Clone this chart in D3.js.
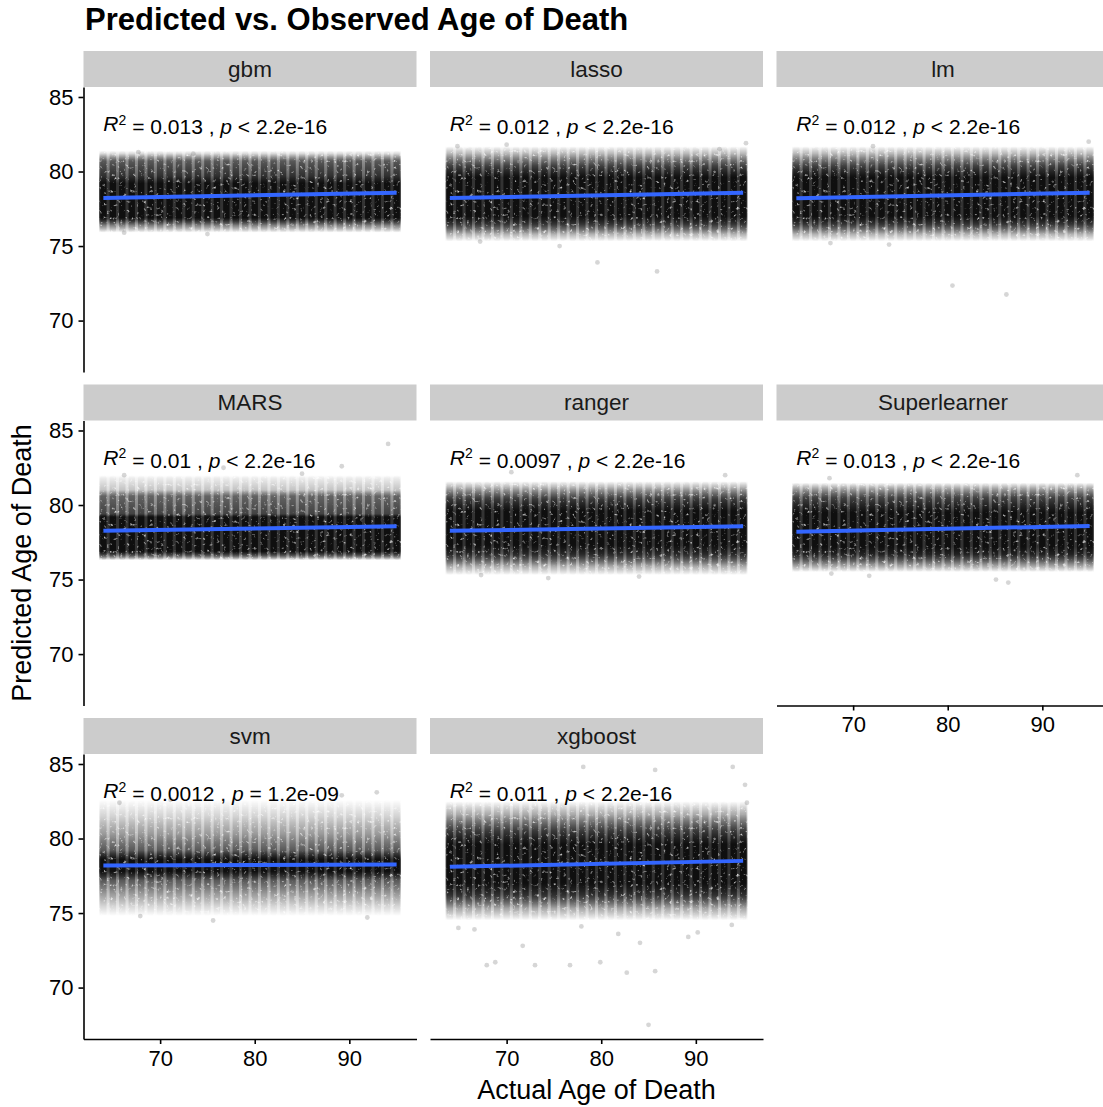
<!DOCTYPE html>
<html>
<head>
<meta charset="utf-8">
<script src="https://cdn.jsdelivr.net/npm/d3@7"></script>
<style>
  body { margin: 0; background: #ffffff; }
  svg text { font-family: "Liberation Sans", Arial, Helvetica, sans-serif; }
</style>
</head>
<body>
<div id="chart"></div>
<script>
// Data -------------------------------------------------------------
var models = ["gbm", "lasso", "lm", "MARS", "ranger", "Superlearner", "svm", "xgboost"];
var r2Labels = ["0.013", "0.012", "0.012", "0.01", "0.0097", "0.013", "0.0012", "0.011"];
var pOps = ["<", "<", "<", "<", "<", "<", "=", "<"];
var pLabels = ["2.2e-16", "2.2e-16", "2.2e-16", "2.2e-16", "2.2e-16", "2.2e-16", "1.2e-09", "2.2e-16"];

// observed ages (x is jittered around each whole year)
var ages = [64, 65, 66, 67, 68, 69, 70, 71, 72, 73, 74, 75, 76, 77, 78, 79,
            80, 81, 82, 83, 84, 85, 86, 87, 88, 89, 90, 91, 92, 93, 94, 95];

// linear fit: predicted value at age 64 and age 95
var fitStart = [78.22, 78.22, 78.2, 78.27, 78.27, 78.2, 78.19, 78.1];
var fitEnd = [78.58, 78.57, 78.58, 78.57, 78.57, 78.6, 78.25, 78.5];

// density of the point cloud at each predicted value (bottom -> top)
var cloudProfiles = {
    gbm: [[75.9, 0], [76.4, 0.4], [76.9, 1], [79.2, 1], [79.7, 0.75], [80.7, 0.55], [81.2, 0.1], [81.4, 0]],
    lasso: [[75.3, 0], [75.8, 0.22], [76.5, 0.75], [77.0, 1], [79.6, 1], [80.4, 0.65], [81.2, 0.2], [81.7, 0]],
    lm: [[75.3, 0], [75.8, 0.22], [76.5, 0.75], [77.0, 1], [79.6, 1], [80.4, 0.65], [81.2, 0.2], [81.7, 0]],
    MARS: [[76.3, 0], [76.6, 0.55], [76.9, 1], [79.2, 1], [79.4, 0.65], [80.6, 0.5], [81.0, 0.17], [81.8, 0.05], [82.0, 0]],
    ranger: [[75.3, 0], [75.9, 0.25], [76.7, 0.8], [77.3, 1], [79.6, 1], [80.4, 0.7], [81.2, 0.2], [81.6, 0]],
    Superlearner: [[75.5, 0], [76.0, 0.32], [76.7, 0.85], [77.2, 1], [79.5, 1], [80.5, 0.65], [81.2, 0.2], [81.5, 0]],
    svm: [[74.8, 0], [75.5, 0.12], [76.3, 0.3], [77.2, 0.55], [77.8, 1], [78.6, 1], [79.2, 0.55], [80.3, 0.3], [81.5, 0.12], [82.6, 0]],
    xgboost: [[74.5, 0], [75.3, 0.25], [76.2, 0.75], [77.0, 1], [79.6, 1], [80.5, 0.7], [81.6, 0.25], [82.5, 0]]
};

// single points that stand away from the cloud [actual, predicted]
var outliers = {
    gbm: [[67.7, 81.3], [73.5, 81.2], [66.2, 75.9], [75.0, 75.8]],
    lasso: [[79.6, 73.9], [85.9, 73.3], [64.8, 81.7], [70.0, 81.8], [95.3, 81.9], [92.5, 81.5], [67.2, 75.3], [75.6, 75.0]],
    lm: [[80.5, 72.35], [86.2, 71.75], [67.6, 75.2], [73.8, 75.1], [94.9, 82.0], [72.1, 81.7]],
    MARS: [[94.1, 84.1], [89.2, 82.6], [76.7, 82.5], [66.2, 82.0], [85.0, 82.1]],
    ranger: [[93.1, 82.0], [70.5, 82.2], [74.4, 75.1], [84.0, 75.2], [67.3, 75.3]],
    Superlearner: [[85.1, 75.0], [86.4, 74.8], [67.7, 75.4], [71.7, 75.25], [93.7, 82.0], [67.5, 81.8]],
    svm: [[92.9, 83.1], [75.6, 74.5], [91.9, 74.7], [67.9, 74.8], [89.2, 82.9], [65.7, 82.4], [71.1, 82.6]],
    xgboost: [[78.1, 84.8], [85.7, 84.6], [93.9, 84.8], [95.2, 83.6], [95.4, 82.4],
              [67.9, 71.5], [68.8, 71.7], [73.0, 71.5], [76.7, 71.5], [79.9, 71.7], [82.7, 71.0], [85.7, 71.1],
              [85.0, 67.5], [71.7, 72.8], [84.1, 73.0], [89.2, 73.4], [90.2, 73.7], [64.9, 74.0], [66.6, 73.9],
              [81.8, 73.6], [77.9, 74.1], [93.8, 74.2]]
};

var yTicks = [70, 75, 80, 85];
var xTicks = [70, 80, 90];
var labelY = 83.2; // where the R2 label sits

// Layout -------------------------------------------------------------
var width = 1103, height = 1107;
var panelW = 333, panelH = 285, stripH = 36;
var left0 = 83.5, top0 = 51, colStep = 346.5, rowStep = 333.5;

var svg = d3.select("#chart")
    .append("svg")
    .attr("width", width)
    .attr("height", height);

var defs = svg.append("defs");

// grain so the cloud reads as many faint points rather than a smooth band
var grain = defs.append("filter")
    .attr("id", "grain")
    .attr("filterUnits", "userSpaceOnUse")
    .attr("x", 0).attr("y", 0)
    .attr("width", panelW).attr("height", panelH);
grain.append("feTurbulence")
    .attr("type", "fractalNoise")
    .attr("baseFrequency", 0.3)
    .attr("numOctaves", 2)
    .attr("seed", 7)
    .attr("result", "noise");
grain.append("feColorMatrix")
    .attr("in", "noise")
    .attr("type", "matrix")
    .attr("values", "0 0 0 0 0  0 0 0 0 0  0 0 0 0 0  3 0 0 0 -0.15")
    .attr("result", "mask");
grain.append("feComposite")
    .attr("in", "SourceGraphic")
    .attr("in2", "mask")
    .attr("operator", "in");

var x = d3.scaleLinear().domain([61.9, 97.1]).range([0, panelW]);
var y = d3.scaleLinear().domain([66.55, 85.67]).range([panelH, 0]);

// Title
svg.append("text")
    .attr("x", 85)
    .attr("y", 30)
    .style("font-size", "31px")
    .style("font-weight", "bold")
    .text("Predicted vs. Observed Age of Death");

// axis titles
svg.append("text")
    .attr("x", left0 + colStep + panelW / 2)
    .attr("y", 1099)
    .attr("text-anchor", "middle")
    .style("font-size", "27px")
    .text("Actual Age of Death");

svg.append("text")
    .attr("transform", "translate(31," + (top0 + stripH + (2 * rowStep + panelH) / 2) + ") rotate(-90)")
    .attr("text-anchor", "middle")
    .style("font-size", "27px")
    .text("Predicted Age of Death");

// Panels -------------------------------------------------------------
models.forEach(function (m, i) {
    var col = i % 3, row = Math.floor(i / 3);
    var px = left0 + col * colStep;
    var py = top0 + row * rowStep;

    // strip
    var strip = svg.append("g").attr("transform", "translate(" + px + "," + py + ")");
    strip.append("rect")
        .attr("width", panelW)
        .attr("height", stripH)
        .attr("fill", "#cccccc");
    strip.append("text")
        .attr("x", panelW / 2)
        .attr("y", stripH / 2)
        .attr("dy", "0.35em")
        .attr("text-anchor", "middle")
        .style("font-size", "22.5px")
        .attr("fill", "#1a1a1a")
        .text(m);

    var g = svg.append("g").attr("transform", "translate(" + px + "," + (py + stripH) + ")");

    // gradient built from the density profile
    var prof = cloudProfiles[m];
    var yLo = prof[0][0], yHi = prof[prof.length - 1][0];
    var grad = defs.append("linearGradient")
        .attr("id", "cloud-" + i)
        .attr("gradientUnits", "userSpaceOnUse")
        .attr("x1", 0).attr("x2", 0)
        .attr("y1", y(yLo)).attr("y2", y(yHi));
    grad.selectAll("stop")
        .data(prof)
        .enter().append("stop")
        .attr("offset", function (d) { return (y(d[0]) - y(yLo)) / (y(yHi) - y(yLo)); })
        .attr("stop-color", "#000")
        .attr("stop-opacity", function (d) { return d[1]; });

    var cloud = g.append("g").attr("filter", "url(#grain)");

    // soft underlay across the whole age range
    cloud.append("rect")
        .attr("x", x(ages[0] - 0.45))
        .attr("width", x(ages[ages.length - 1] + 0.45) - x(ages[0] - 0.45))
        .attr("y", y(yHi))
        .attr("height", y(yLo) - y(yHi))
        .attr("fill", "url(#cloud-" + i + ")")
        .attr("opacity", 0.8);

    // one jittered column per observed age
    cloud.selectAll(".col")
        .data(ages)
        .enter().append("rect")
        .attr("class", "col")
        .attr("x", function (d) { return x(d - 0.34); })
        .attr("width", x(0.68) - x(0))
        .attr("y", y(yHi))
        .attr("height", y(yLo) - y(yHi))
        .attr("rx", 3)
        .attr("fill", "url(#cloud-" + i + ")")
        .attr("opacity", 0.7);

    g.selectAll(".pt")
        .data(outliers[m])
        .enter().append("circle")
        .attr("class", "pt")
        .attr("cx", function (d) { return x(d[0]); })
        .attr("cy", function (d) { return y(d[1]); })
        .attr("r", 2.4)
        .attr("fill", "#000")
        .attr("fill-opacity", 0.16);

    // fitted line
    g.append("line")
        .attr("x1", x(ages[0]))
        .attr("x2", x(ages[ages.length - 1]))
        .attr("y1", y(fitStart[i]))
        .attr("y2", y(fitEnd[i]))
        .attr("stroke", "#3366FF")
        .attr("stroke-width", 4);

    // R2 / p label
    var lab = g.append("text")
        .attr("x", x(64))
        .attr("y", y(labelY))
        .attr("dy", "0.35em")
        .style("font-size", "21px")
        .attr("fill", "#000");
    lab.append("tspan").style("font-style", "italic").text("R");
    lab.append("tspan").attr("dy", "-0.45em").style("font-size", "14px").text("2");
    lab.append("tspan").attr("dy", "0.45em").text(" = " + r2Labels[i] + " , ");
    lab.append("tspan").style("font-style", "italic").text("p");
    lab.append("tspan").text(" " + pOps[i] + " " + pLabels[i]);

    // y axis on the first column
    if (col === 0) {
        var ya = g.append("g")
            .call(d3.axisLeft(y).tickValues(yTicks).tickSize(5).tickSizeOuter(0).tickPadding(5));
        ya.selectAll("text").style("font-size", "22px").attr("fill", "#000");
        ya.select(".domain").attr("stroke-width", 1.6);
        ya.selectAll(".tick line").attr("stroke-width", 1.6);
    }
    // x axis on the lowest panel of each column
    if (i >= 5) {
        var xa = g.append("g")
            .attr("transform", "translate(0," + panelH + ")")
            .call(d3.axisBottom(x).tickValues(xTicks).tickSize(5).tickSizeOuter(0).tickPadding(6));
        xa.selectAll("text").style("font-size", "22px").attr("fill", "#000");
        xa.select(".domain").attr("stroke-width", 1.6);
        xa.selectAll(".tick line").attr("stroke-width", 1.6);
    }
});
</script>
</body>
</html>
